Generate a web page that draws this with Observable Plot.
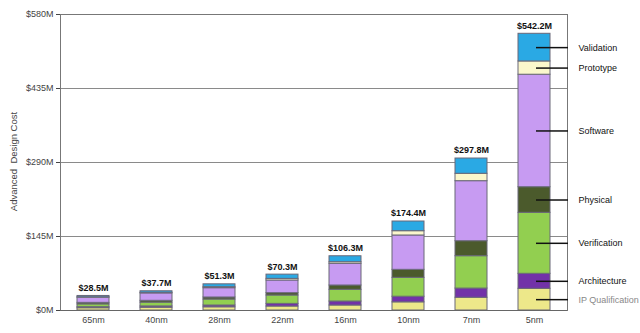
<!DOCTYPE html>
<html><head><meta charset="utf-8">
<script src="https://cdn.jsdelivr.net/npm/d3@7"></script>
<script src="https://cdn.jsdelivr.net/npm/@observablehq/plot@0.6"></script>
<style>body{margin:0;background:#fff;font-family:"Liberation Sans",Arial,sans-serif}</style>
</head><body><div id="chart"></div>
<script>
const nodes = ["65nm","40nm","28nm","22nm","16nm","10nm","7nm","5nm"];
const totals = [28.5,37.7,51.3,70.3,106.3,174.4,297.8,542.2];
const categories = ["IP Qualification","Architecture","Verification","Physical","Software","Prototype","Validation"];
const colors = ["#EDE88A","#7232A8","#92CF50","#4B5A2C","#C79BF2","#FBF7CC","#2AA9E4"];
// values per node, bottom to top (IP, Arch, Verif, Physical, Software, Prototype, Validation)
const ipQualification = [4.5,5.5,6.3,7.8,9.8,16,25,42.5];
const architecture   = [2,2.5,3.5,5.2,7.8,11,18,29.4];
const verification   = [5.5,7.5,11.7,16.4,22.9,37,63.4,119.5];
const physical       = [3,3.5,4,4.6,8.5,15.7,29.4,50.2];
const software       = [10,14.5,18.2,24.8,42.4,67.3,117.6,220.4];
const prototype      = [1,1.2,2,3.2,3.2,8.4,14.5,26];
const validation     = [2.5,3,5.6,8.3,11.7,19,29.9,54.2];
const yTicks = [0,145,290,435,580];
const yTitle = "Advanced  Design Cost";

const series = [ipQualification,architecture,verification,physical,software,prototype,validation];
const rows = [];
nodes.forEach((n,i)=>categories.forEach((c,j)=>rows.push({node:n,cat:c,value:series[j][i]})));
const last = nodes.length-1;
let acc = 0;
const labels = categories.map((c,j)=>{const v=series[j][last]; const m=acc+v/2; acc+=v; return {cat:c, mid:m};});

const plot = Plot.plot({
  width:640, height:333,
  marginLeft:60, marginRight:73, marginTop:14, marginBottom:23,
  style:{fontFamily:"Liberation Sans, Arial, sans-serif", fontSize:"9px", color:"#444"},
  x:{domain:nodes, paddingInner:0.5, paddingOuter:0.25, tickSize:0, tickPadding:6, label:null},
  y:{domain:[0,580], ticks:yTicks, tickFormat:d=>`$${d}M`, tickSize:4, tickPadding:3, label:null},
  color:{domain:categories, range:colors},
  marks:[
    Plot.ruleY(yTicks.slice(1), {stroke:"#8a8a8a", strokeWidth:1}),
    Plot.frame({stroke:"#777"}),
    Plot.barY(rows, {x:"node", y:"value", fill:"cat", stroke:"#6a6878", strokeWidth:1, order:null}),
    Plot.ruleY([0], {stroke:"#666"}),
    Plot.text([yTitle], {frameAnchor:"left", textAnchor:"middle", text:d=>d, rotate:-90, dx:-47, dy:-1, fontSize:9.5, fill:"#444"}),
    Plot.text(nodes, {x:d=>d, y:(d,i)=>totals[i], text:(d,i)=>`$${totals[i]}M`, dy:-8, fontWeight:"bold", fontSize:9, fill:"#111"}),
    Plot.tickY(labels, {x:()=>"5nm", y:"mid", dx:18, stroke:"#111", strokeWidth:1.5}),
    Plot.text(labels, {x:()=>"5nm", y:"mid", text:"cat", dx:44, textAnchor:"start", fontSize:9, fill:(d)=>d.cat==="IP Qualification"?"#888":"#111"})
  ]
});
document.getElementById("chart").append(plot);
</script></body></html>
